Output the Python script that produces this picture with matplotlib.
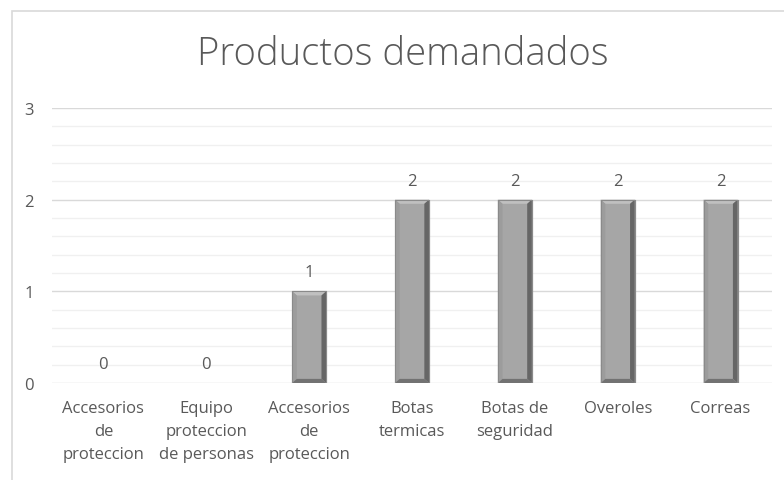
import matplotlib.pyplot as plt
import numpy as np
from matplotlib.patches import Rectangle, Polygon

categories = ['Accesorios\nde\nproteccion', 'Equipo\nproteccion\nde personas', 'Accesorios\nde\nproteccion',
              'Botas\ntermicas', 'Botas de\nseguridad', 'Overoles', 'Correas']
values = [0, 0, 1, 2, 2, 2, 2]

plt.rcParams['font.family'] = ['Open Sans', 'DejaVu Sans']
text_color = '#595959'

fig = plt.figure(figsize=(7.84, 4.81), dpi=100)
ax = fig.add_axes([52 / 784, 1 - 384 / 481, 720 / 784, 275 / 481])

# outer chart border (cropped on right and bottom)
fig.add_artist(Rectangle((12 / 784, -0.1), 1.0, 1 - 11.5 / 481 + 0.1, transform=fig.transFigure,
                         fill=False, edgecolor='#d9d9d9', linewidth=1.2))

x = np.arange(len(categories))
w = 0.33
ax.set_xlim(-0.5, len(categories) - 0.5)
ax.set_ylim(0, 3)

for y in np.arange(0.2, 3.0, 0.2):
    if abs(y - round(y)) > 1e-6:
        ax.axhline(y, color='#f0f0f0', linewidth=1.0, zorder=0)
for y in [0, 1, 2, 3]:
    ax.axhline(y, color='#d9d9d9', linewidth=1.0, zorder=1)

bx = 0.045  # bevel in x data units
by = 0.045  # bevel in y data units
for xi, v in zip(x, values):
    if v <= 0:
        continue
    l, r = xi - w / 2, xi + w / 2
    ax.add_patch(Rectangle((l, 0), w, v, facecolor='#a6a6a6', edgecolor='#8a8a8a', linewidth=0.8, zorder=2))
    # bevels
    ax.add_patch(Polygon([(l, v), (r, v), (r - bx, v - by), (l + bx, v - by)],
                         facecolor='#c0c0c0', edgecolor='none', zorder=3))
    ax.add_patch(Polygon([(l, 0), (l, v), (l + bx, v - by), (l + bx, by)],
                         facecolor='#9c9c9c', edgecolor='none', zorder=3))
    ax.add_patch(Polygon([(r, 0), (r, v), (r - bx, v - by), (r - bx, by)],
                         facecolor='#666666', edgecolor='none', zorder=3))
    ax.add_patch(Polygon([(l, 0), (r, 0), (r - bx, by), (l + bx, by)],
                         facecolor='#727272', edgecolor='none', zorder=3))
    ax.add_patch(Rectangle((l, 0), w, v, fill=False, edgecolor='#8a8a8a', linewidth=0.8, zorder=4))

for xi, v in zip(x, values):
    ax.annotate(str(v), (xi, v), xytext=(0, 8), textcoords='offset points',
                ha='center', va='bottom', fontsize=12, color=text_color)

ax.set_xticks(x)
ax.set_xticklabels(categories, fontsize=12, color=text_color, linespacing=1.58)
ax.set_yticks([0, 1, 2, 3])
ax.set_yticklabels(['0', '1', '2', '3'], fontsize=12, color=text_color)
ax.tick_params(length=0)
ax.tick_params(axis='x', pad=12)
ax.tick_params(axis='y', pad=13)
for s in ax.spines.values():
    s.set_visible(False)

fig.text(403 / 784, 1 - 55 / 481, 'Productos demandados', ha='center', va='center',
         fontsize=27.5, color=text_color, fontweight='light')

fig.savefig('out.png', dpi=100)
